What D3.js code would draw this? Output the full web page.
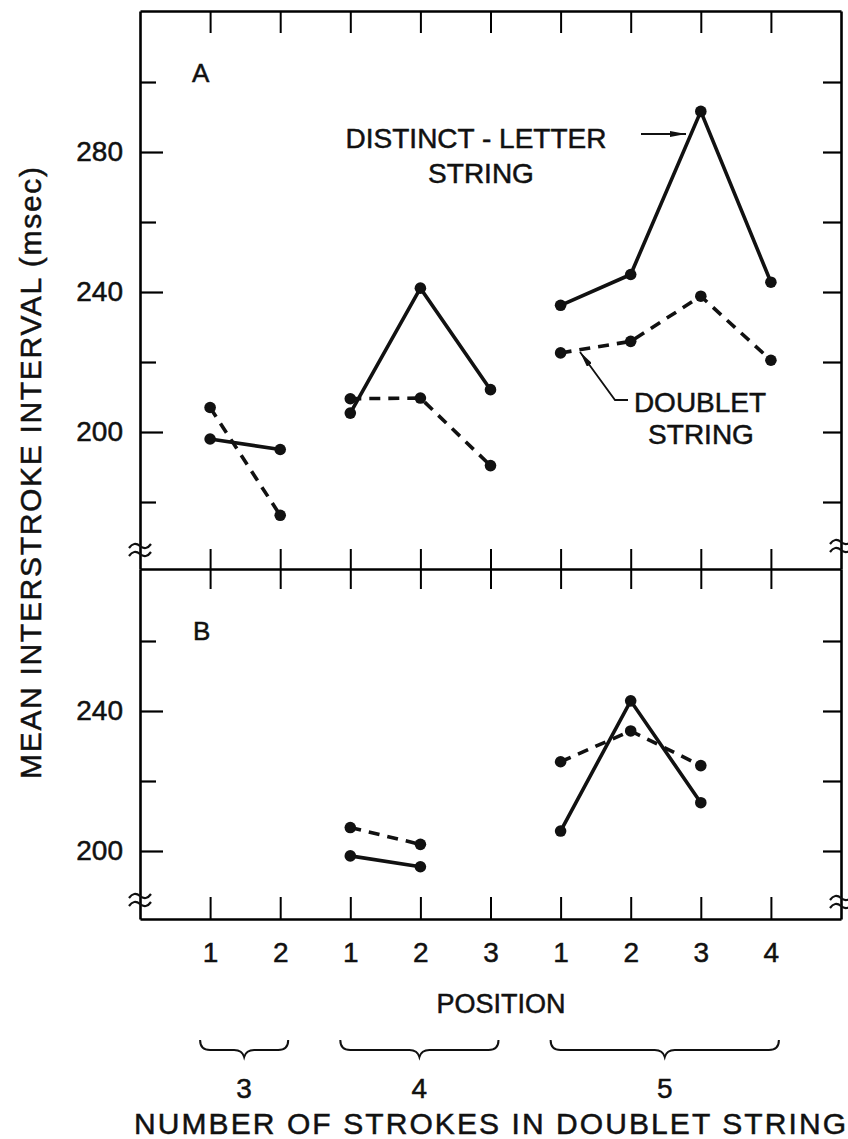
<!DOCTYPE html>
<html>
<head>
<meta charset="utf-8">
<script src="https://cdn.jsdelivr.net/npm/d3@7"></script>
<style>
  body { margin: 0; background: #fff; }
  text { font-family: "Liberation Sans", Arial, sans-serif; fill: #111; stroke: #111; stroke-width: 0.5px; }
</style>
</head>
<body>
<div id="chart"></div>
<script>
// positions along the x axis, grouped by number of strokes in doublet string
const positions = ["1", "2", "1", "2", "3", "1", "2", "3", "4"];
const groups = ["3", "4", "5"];
const groupIdx = [[0, 1], [2, 4], [5, 8]];

// panel A (msec)
const distinctA = [198.0, 195.0, 205.4, 241.1, 212.1, 236.2, 245.0, 291.6, 242.8];
const doubletA  = [207.0, 176.2, 209.5, 209.7, 190.4, 222.6, 225.9, 238.8, 220.5];
// panel B (msec) - only some positions
const distinctB = [null, null, 198.6, 195.5, null, 205.7, 242.9, 213.8, null];
const doubletB  = [null, null, 206.7, 201.9, null, 225.5, 234.3, 224.4, null];

const ticksA = [180, 200, 220, 240, 260, 280, 300];
const ticksB = [200, 220, 240, 260];
const labelTicks = [200, 240, 280];

const W = 848, H = 1139;
const plotL = 140, plotR = 841;
const plotT = 11, plotM = 569, plotB = 919;

const svg = d3.select("#chart").append("svg")
    .attr("width", W)
    .attr("height", H);

const x = d3.scaleLinear().domain([-1, 9]).range([plotL, plotR]);
const yA = d3.scaleLinear().domain([160.86, 320.29]).range([plotM, plotT]);
const yB = d3.scaleLinear().domain([180.57, 280.57]).range([plotB, plotM]);

const axisW = 2.6;

// y axes, ticks pointing inward
function yAxes(y, ticks) {
    let l = svg.append("g")
        .attr("transform", "translate(" + plotL + ",0)")
        .call(d3.axisLeft(y).tickValues(ticks).tickSizeInner(-22).tickSizeOuter(0)
            .tickPadding(17)
            .tickFormat(d => labelTicks.includes(d) ? d : ""));
    l.selectAll(".tick line").attr("x2", d => labelTicks.includes(d) ? 23 : 16);

    let r = svg.append("g")
        .attr("transform", "translate(" + plotR + ",0)")
        .call(d3.axisRight(y).tickValues(ticks).tickSizeInner(-18).tickSizeOuter(0)
            .tickFormat(""));
    [l, r].forEach(g => {
        g.select(".domain").attr("stroke-width", axisW);
        g.selectAll(".tick line").attr("stroke-width", 2.2);
        g.selectAll("text").style("font-size", "28px").attr("fill", "#111");
    });
}
yAxes(yA, ticksA);
yAxes(yB, ticksB);

// top border with ticks pointing down
let xTop = svg.append("g")
    .attr("transform", "translate(0," + plotT + ")")
    .call(d3.axisTop(x).tickValues(d3.range(9)).tickSizeInner(-22).tickSizeOuter(0).tickFormat(""));

// middle divider, ticks crossing
let xMid = svg.append("g")
    .attr("transform", "translate(0," + plotM + ")")
    .call(d3.axisBottom(x).tickValues(d3.range(9)).tickSize(20).tickSizeOuter(0).tickFormat(""));
xMid.selectAll(".tick line").attr("y1", -20);

// bottom axis with position labels
let xBot = svg.append("g")
    .attr("transform", "translate(0," + plotB + ")")
    .call(d3.axisBottom(x).tickValues(d3.range(9)).tickSizeInner(-22).tickSizeOuter(0)
        .tickPadding(23)
        .tickFormat(i => positions[i]));

[xTop, xMid, xBot].forEach(g => {
    g.select(".domain").attr("stroke-width", axisW);
    g.selectAll(".tick line").attr("stroke-width", 2);
    g.selectAll("text").style("font-size", "28px").attr("fill", "#111");
});

// axis break marks
function squiggle(cx, cy) {
    let g = svg.append("g").attr("fill", "none").attr("stroke", "#111").attr("stroke-width", 2.2);
    [-4, 4].forEach(dy => {
        g.append("path")
            .attr("d", "M" + (cx - 11) + "," + (cy + dy + 2) +
                " q5,-7 11,-2 t11,-2");
    });
}
squiggle(plotL, 550);
squiggle(plotL, 900);
squiggle(plotR, 546);
squiggle(plotR, 902);

// data series
const segs = groupIdx.map(([a, b]) => d3.range(a, b + 1));

function drawSeries(y, vals, dashed) {
    const line = d3.line()
        .defined(i => vals[i] != null)
        .x(i => x(i))
        .y(i => y(vals[i]));
    svg.append("g").selectAll("path")
        .data(segs)
        .join("path")
        .attr("d", line)
        .attr("fill", "none")
        .attr("stroke", "#111")
        .attr("stroke-width", 3.6)
        .attr("stroke-dasharray", dashed ? "11,8" : null);
    svg.append("g").selectAll("circle")
        .data(d3.range(vals.length).filter(i => vals[i] != null))
        .join("circle")
        .attr("cx", i => x(i))
        .attr("cy", i => y(vals[i]))
        .attr("r", 5.8)
        .attr("fill", "#111");
}
drawSeries(yA, distinctA, false);
drawSeries(yA, doubletA, true);
drawSeries(yB, distinctB, false);
drawSeries(yB, doubletB, true);

// panel letters
svg.append("text").attr("x", 192).attr("y", 82).style("font-size", "26px").text("A");
svg.append("text").attr("x", 193).attr("y", 640).style("font-size", "26px").text("B");

// annotations
svg.append("text").attr("x", 476).attr("y", 148).attr("text-anchor", "middle")
    .style("font-size", "28px").text("DISTINCT - LETTER");
svg.append("text").attr("x", 481).attr("y", 183).attr("text-anchor", "middle")
    .style("font-size", "28px").text("STRING");
svg.append("text").attr("x", 700).attr("y", 412).attr("text-anchor", "middle")
    .style("font-size", "28px").text("DOUBLET");
svg.append("text").attr("x", 701).attr("y", 444).attr("text-anchor", "middle")
    .style("font-size", "28px").text("STRING");

// arrow heads
svg.append("defs").append("marker")
    .attr("id", "head")
    .attr("viewBox", "0 0 16 6")
    .attr("refX", 16).attr("refY", 3)
    .attr("markerWidth", 16).attr("markerHeight", 6)
    .attr("markerUnits", "userSpaceOnUse")
    .attr("orient", "auto")
    .append("path").attr("d", "M0,0 L16,3 L0,6 Z").attr("fill", "#111");

svg.append("path")
    .attr("d", "M641,134 L686,134")
    .attr("stroke", "#111").attr("stroke-width", 2)
    .attr("marker-end", "url(#head)");
svg.append("path")
    .attr("d", "M628,400 L615,400 L580,352")
    .attr("fill", "none")
    .attr("stroke", "#111").attr("stroke-width", 1.8)
    .attr("marker-end", "url(#head)");

// y title
svg.append("text")
    .attr("transform", "translate(41,473) rotate(-90)")
    .attr("text-anchor", "middle")
    .attr("textLength", 612)
    .attr("lengthAdjust", "spacing")
    .style("font-size", "30px")
    .text("MEAN INTERSTROKE INTERVAL (msec)");

// x titles
svg.append("text").attr("x", 501).attr("y", 1013).attr("text-anchor", "middle")
    .style("font-size", "27px").text("POSITION");

// braces under each group
const braceTop = 1040;
groupIdx.forEach(([a, b], k) => {
    const x0 = x(a) - 10, x1 = x(b) + 8, xm = (x0 + x1) / 2;
    const d = "M" + x0 + "," + braceTop +
        " Q" + x0 + "," + (braceTop + 10) + " " + (x0 + 10) + "," + (braceTop + 10) +
        " L" + (xm - 10) + "," + (braceTop + 10) +
        " Q" + (xm - 2) + "," + (braceTop + 10) + " " + xm + "," + (braceTop + 17) +
        " Q" + (xm + 2) + "," + (braceTop + 10) + " " + (xm + 10) + "," + (braceTop + 10) +
        " L" + (x1 - 10) + "," + (braceTop + 10) +
        " Q" + x1 + "," + (braceTop + 10) + " " + x1 + "," + braceTop;
    svg.append("path").attr("d", d).attr("fill", "none")
        .attr("stroke", "#111").attr("stroke-width", 2);
    svg.append("text").attr("x", xm).attr("y", 1098).attr("text-anchor", "middle")
        .style("font-size", "28px").text(groups[k]);
});

svg.append("text").attr("x", 490).attr("y", 1134).attr("text-anchor", "middle")
    .attr("textLength", 712)
    .attr("lengthAdjust", "spacing")
    .style("font-size", "30px")
    .text("NUMBER OF STROKES IN DOUBLET STRING");
</script>
</body>
</html>
